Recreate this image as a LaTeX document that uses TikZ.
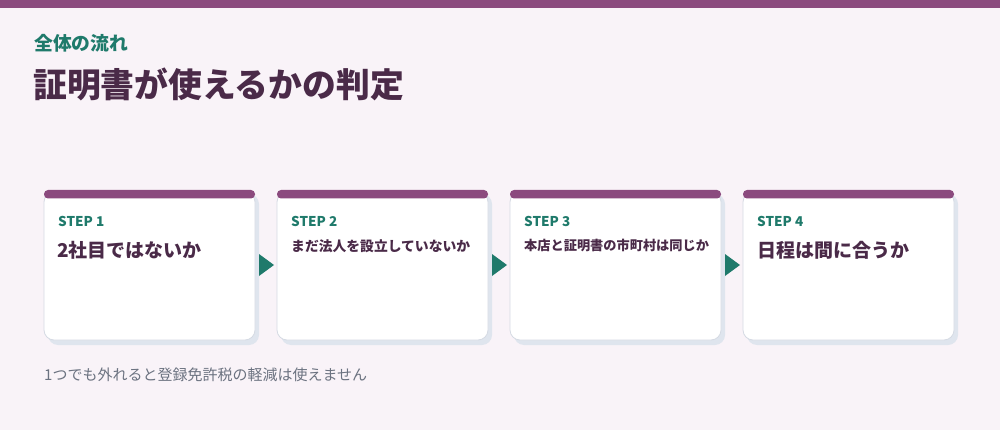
\documentclass[tikz,border=0pt]{standalone}
\usepackage{fontspec}
\setmainfont{Noto Sans CJK JP}
\newfontfamily\jp{Noto Sans CJK JP}
\definecolor{bgc}{HTML}{F9F3F8}
\definecolor{plum}{HTML}{8B4A7E}
\definecolor{teal}{HTML}{1F7A6B}
\definecolor{ink}{HTML}{4A2A48}
\definecolor{shadowc}{HTML}{DFE5EE}
\definecolor{borderc}{HTML}{D5DAE3}
\definecolor{greytxt}{HTML}{6B7280}
\tikzset{
  cardbox/.style={fill=white,draw=borderc,line width=0.8pt,rounded corners=10pt},
  cardshadow/.style={fill=shadowc,rounded corners=10pt},
  cardbar/.style={fill=plum,rounded corners=4pt},
  steplbl/.style={anchor=west,inner sep=0pt,text=teal,font=\jp\bfseries\fontsize{13.5}{15}\selectfont},
  bigtxt/.style={anchor=west,inner sep=0pt,text=ink,font=\jp\bfseries\fontsize{19}{22}\selectfont},
  smalltxt/.style={anchor=west,inner sep=0pt,text=ink,font=\jp\bfseries\fontsize{13.8}{16}\selectfont},
  tri/.style={fill=teal}
}
\begin{document}
\begin{tikzpicture}[x=1pt,y=-1pt]
\useasboundingbox (0,0) rectangle (1000,430);
\fill[bgc] (0,0) rectangle (1000,430);
\fill[plum] (0,0) rectangle (1000,8.5);
\node[anchor=west,inner sep=0pt,text=teal,font=\jp\bfseries\fontsize{18.8}{22}\selectfont] (sub) at (34,43) {全体の流れ};
\node[anchor=west,inner sep=0pt,text=ink,font=\jp\bfseries\fontsize{33.8}{40}\selectfont] (title) at (33,84) {証明書が使えるかの判定};
\foreach \i/\x in {1/44,2/277,3/510,4/743}{
  \fill[cardshadow] (\x+4,194) rectangle (\x+215,345);
  \draw[cardbox] (\x,192) rectangle (\x+211,340);
  \fill[cardbar] (\x,190) rectangle (\x+211,198.5);
  \coordinate (c\i) at (\x,265);
}
\node[steplbl] (s1) at (58,221) {STEP 1};
\node[steplbl] (s2) at (291,221) {STEP 2};
\node[steplbl] (s3) at (524,221) {STEP 3};
\node[steplbl] (s4) at (757,221) {STEP 4};
\node[bigtxt] (t1) at (57,250) {2社目ではないか};
\node[smalltxt] (t2) at (291,246) {まだ法人を設立していないか};
\node[smalltxt,font=\jp\bfseries\fontsize{13.2}{16}\selectfont] (t3) at (524,246) {本店と証明書の市町村は同じか};
\node[bigtxt] (t4) at (757,250) {日程は間に合うか};
\foreach \x in {259,492,725}{
  \fill[tri] (\x,254) -- (\x+15,265) -- (\x,276) -- cycle;
}
\node[anchor=west,inner sep=0pt,text=greytxt,font=\jp\fontsize{15}{18}\selectfont] (foot) at (44,375) {1つでも外れると登録免許税の軽減は使えません};
\end{tikzpicture}
\end{document}
